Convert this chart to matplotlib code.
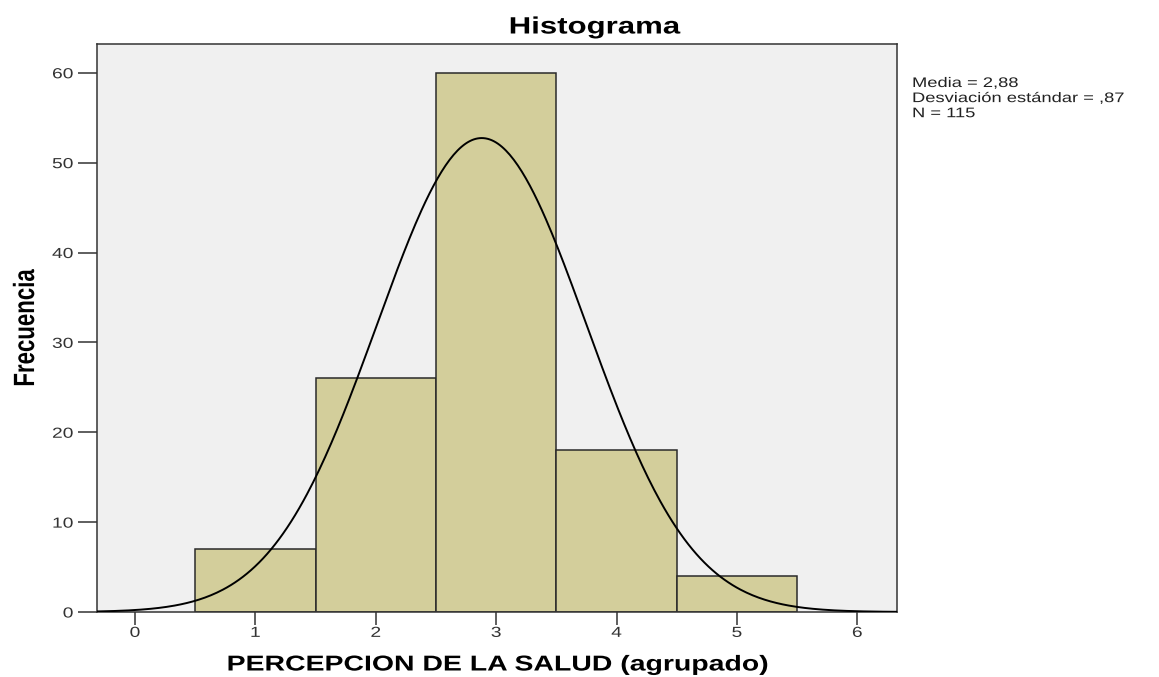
import numpy as np
import matplotlib
matplotlib.use("Agg")
import matplotlib.pyplot as plt
from matplotlib.patheffects import AbstractPathEffect
from matplotlib.transforms import Affine2D

# Data
bin_centers = [1, 2, 3, 4, 5]
frequencies = [7, 26, 60, 18, 4]
mean_val = 2.88
sd_val = 0.87
n_val = 115
x_ticks = [0, 1, 2, 3, 4, 5, 6]
y_ticks = [0, 10, 20, 30, 40, 50, 60]

plt.rcParams['font.family'] = ['Liberation Sans', 'DejaVu Sans']

SX = 1.32


class HStretch(AbstractPathEffect):
    """Stretch text horizontally (the reference rendering is widened)."""
    def __init__(self, sx=SX, anchor='center'):
        super().__init__()
        self.sx = sx
        self.anchor = anchor

    def draw_path(self, renderer, gc, tpath, affine, rgbFace=None):
        if self.anchor == 'origin':
            cx = affine.transform((0, 0))[0]
        else:
            ext = tpath.get_extents(affine)
            cx = ext.x1 if self.anchor == 'right' else (ext.x0 + ext.x1) / 2
        new = affine + Affine2D().translate(-cx, 0).scale(self.sx, 1).translate(cx, 0)
        renderer.draw_path(gc, tpath, new, rgbFace)


fig = plt.figure(figsize=(11.59, 6.77), dpi=100)
ax = fig.add_axes([97/1159, 1 - 612/677, 800/1159, 568/677])
ax.set_facecolor('#f0f0f0')

ax.bar(bin_centers, frequencies, width=1.0, color='#d3ce9b', edgecolor='#2a2a2a', linewidth=1.1, zorder=2)

xs = np.linspace(-0.32, 6.33, 400)
pdf = n_val * 1.0 / (sd_val * np.sqrt(2 * np.pi)) * np.exp(-0.5 * ((xs - mean_val) / sd_val) ** 2)
ax.plot(xs, pdf, color='black', linewidth=1.4, zorder=3)

ax.set_xlim(-0.316, 6.33)
ax.set_ylim(0, 63.2)
ax.set_xticks(x_ticks)
ax.set_yticks(y_ticks)
ax.tick_params(axis='x', direction='out', length=9, width=1.1, pad=1, labelsize=10.5,
               color='#333333', labelcolor='#333333')
ax.tick_params(axis='y', direction='out', length=14, width=1.1, pad=3, labelsize=10.5,
               color='#333333', labelcolor='#333333')
for s in ax.spines.values():
    s.set_color('#333333')
    s.set_linewidth(1.1)

for lab in ax.get_xticklabels():
    lab.set_path_effects([HStretch(anchor='center')])
for lab in ax.get_yticklabels():
    lab.set_path_effects([HStretch(anchor='right')])

fig.text(595/1159, 1 - 27/677, 'Histograma', fontsize=17, fontweight='bold',
         ha='center', va='center', path_effects=[HStretch(anchor='center')])
fig.text(497/1159, 1 - 665/677, 'PERCEPCION DE LA SALUD (agrupado)', fontsize=15.5,
         fontweight='bold', ha='center', va='center', path_effects=[HStretch(anchor='center')])
fig.text(26/1159, 1 - 328/677, 'Frecuencia', fontsize=16, fontweight='bold', rotation=90,
         ha='center', va='center', path_effects=[HStretch(anchor='center')])

fig.text(912/1159, 1 - 76/677, 'Media = 2,88\nDesviación estándar = ,87\nN = 115',
         fontsize=10, va='top', ha='left', linespacing=1.1, color='#222222',
         path_effects=[HStretch(anchor='origin')])

fig.savefig('out.png', dpi=100)
